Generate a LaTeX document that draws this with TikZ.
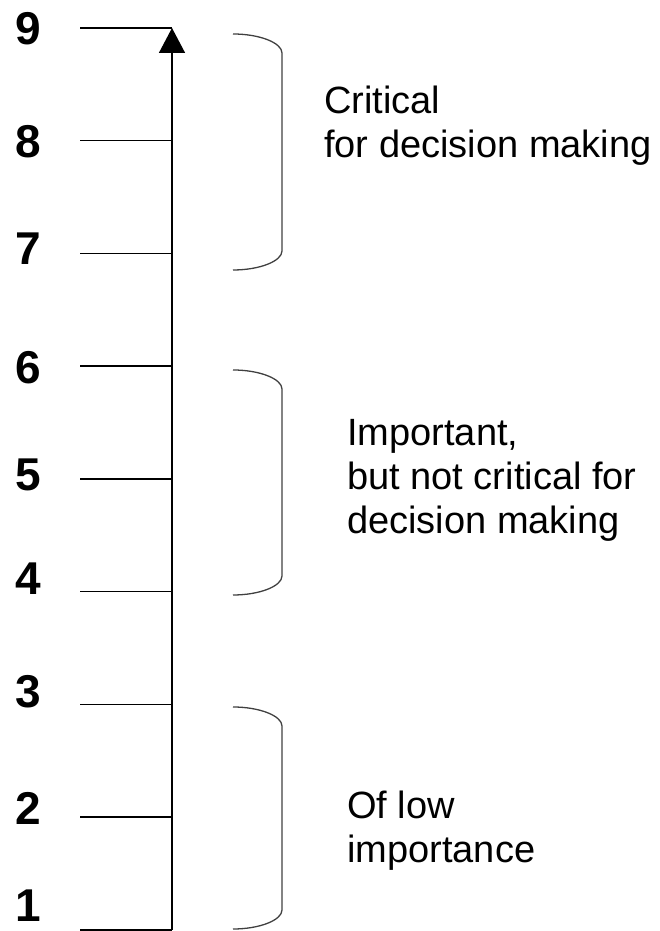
\documentclass[tikz,border=0pt]{standalone}
\usepackage{fontspec}
\setmainfont{Liberation Sans}
\usetikzlibrary{arrows.meta}
\tikzset{
    scaleline/.style={black, line width=1.5pt},
    bracket/.style={black!75, line width=1.3pt},
    numlabel/.style={font=\fontsize{46}{52}\selectfont\bfseries, inner sep=0pt},
    notetext/.style={font=\fontsize{38}{44}\selectfont, align=left, inner sep=0pt, anchor=base west},
}
\begin{document}
\begin{tikzpicture}[x=1pt, y=1pt]
        \useasboundingbox (0, 0) rectangle (660, 931);

        % Scale
        \foreach \k in {1, 2, ..., 9} {
            \coordinate (s\k) at (80, {1 + (\k-1)*112.75});
            \coordinate (t\k) at (172, {1 + (\k-1)*112.75});
            \draw[scaleline] (s\k) -- (t\k);
        }
        \draw[scaleline, -{Triangle[length=25pt, width=26pt]}] (t1) -- (t9);

        % Numbers
        \foreach \k/\y in {1/25, 2/123, 3/239, 4/352, 5/456, 6/563, 7/682, 8/789, 9/902} {
            \node[numlabel] (n\k) at (28, \y) {\k};
        }

        % Brackets
        \foreach \a/\b in {897/661, 561/336, 224/2} {
            \draw[bracket] (233, \a) .. controls (260, \a) and (282, {\a-9}) .. (282, {\a-19})
                -- (282, {\b+19}) .. controls (282, {\b+9}) and (260, \b) .. (233, \b);
        }

        % Texts
        \node[notetext] (critical) at (324, 773) {Critical\\for decision making};
        \node[notetext] (important) at (347, 397) {Important,\\but not critical for\\decision making};
        \node[notetext] (low) at (347, 68) {Of low\\importance};
\end{tikzpicture}
\end{document}
